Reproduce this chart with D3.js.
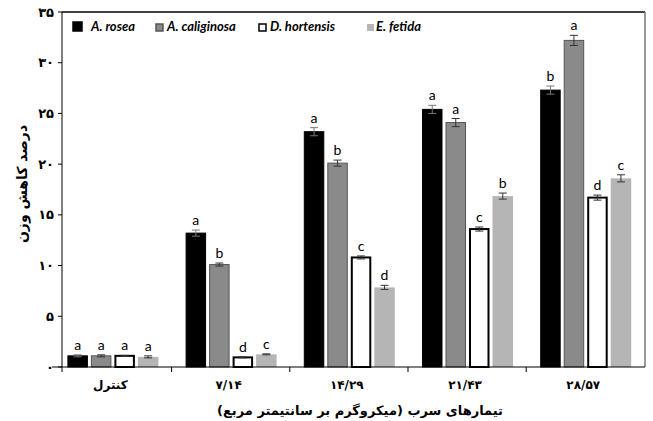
<!DOCTYPE html>
<html>
<head>
<meta charset="utf-8">
<script src="https://cdn.jsdelivr.net/npm/d3@7"></script>
<style>
  body { margin: 0; background: #fff; }
  text { font-family: "DejaVu Sans", sans-serif; }
</style>
</head>
<body>
<script>
var groups = ['کنترل', '۷/۱۴', '۱۴/۲۹', '۲۱/۴۳', '۲۸/۵۷'];
var species = ['A. rosea', 'A. caliginosa', 'D. hortensis', 'E. fetida'];

// mean weight loss per species, one entry per treatment group
var rosea = [1.1, 13.2, 23.2, 25.4, 27.3];
var caliginosa = [1.1, 10.1, 20.1, 24.1, 32.2];
var hortensis = [1.1, 0.95, 10.8, 13.6, 16.7];
var fetida = [1.0, 1.25, 7.85, 16.85, 18.6];

var roseaErr = [0.1, 0.3, 0.4, 0.4, 0.4];
var caliginosaErr = [0.1, 0.15, 0.3, 0.4, 0.5];
var hortensisErr = [0.05, 0.05, 0.15, 0.2, 0.25];
var fetidaErr = [0.1, 0.05, 0.2, 0.3, 0.35];

var roseaLetters = ['a', 'a', 'a', 'a', 'b'];
var caliginosaLetters = ['a', 'b', 'b', 'a', 'a'];
var hortensisLetters = ['a', 'd', 'c', 'c', 'd'];
var fetidaLetters = ['a', 'c', 'd', 'b', 'c'];

var yTicks = [0, 5, 10, 15, 20, 25, 30, 35];

function draw() {
  var series = [
    { name: species[0], values: rosea, err: roseaErr, letters: roseaLetters, fill: '#000', stroke: '#000', sw: 1 },
    { name: species[1], values: caliginosa, err: caliginosaErr, letters: caliginosaLetters, fill: '#8a8a8a', stroke: '#555', sw: 1 },
    { name: species[2], values: hortensis, err: hortensisErr, letters: hortensisLetters, fill: '#fff', stroke: '#000', sw: 2 },
    { name: species[3], values: fetida, err: fetidaErr, letters: fetidaLetters, fill: '#b5b5b5', stroke: 'none', sw: 0 }
  ];

  function fa(n) {
    return String(n).replace(/[0-9]/g, function (c) { return '۰۱۲۳۴۵۶۷۸۹'[+c]; });
  }

  var W = 653, H = 421;
  var pl = 62, pr = 645, pt = 12, pb = 367;

  var svg = d3.select('body').append('svg')
    .attr('width', W)
    .attr('height', H);

  var x0 = d3.scaleBand()
    .domain(groups)
    .range([53.4, 644.4]);

  var x1 = d3.scaleBand()
    .domain(species)
    .range([14, 105])
    .paddingInner(0.128);

  var y = d3.scaleLinear()
    .domain([0, 35])
    .range([pb, pt]);

  // plot frame (top and right)
  svg.append('line')
    .attr('x1', pl).attr('x2', pr)
    .attr('y1', pt).attr('y2', pt)
    .attr('stroke', '#000').attr('stroke-width', 1.5);
  svg.append('line')
    .attr('x1', pr).attr('x2', pr)
    .attr('y1', pt).attr('y2', pb)
    .attr('stroke', '#777').attr('stroke-width', 1.5);

  var rows = [];
  series.forEach(function (s) {
    groups.forEach(function (g, i) {
      rows.push({ s: s, g: g, v: s.values[i], e: s.err[i], l: s.letters[i] });
    });
  });

  var bar = svg.append('g')
    .selectAll('g')
    .data(rows)
    .enter().append('g')
    .attr('transform', function (d) { return 'translate(' + (x0(d.g) + x1(d.s.name)) + ',0)'; });

  var bw = x1.bandwidth();

  bar.append('rect')
    .attr('x', function (d) { return d.s.sw / 2; })
    .attr('width', function (d) { return bw - d.s.sw; })
    .attr('y', function (d) { return y(d.v); })
    .attr('height', function (d) { return y(0) - y(d.v); })
    .attr('fill', function (d) { return d.s.fill; })
    .attr('stroke', function (d) { return d.s.stroke; })
    .attr('stroke-width', function (d) { return d.s.sw; });

  // error bars
  var eb = bar.append('g')
    .attr('stroke', function (d) { return d.s.fill == '#000' ? '#777' : '#333'; })
    .attr('stroke-width', 1);
  eb.append('line')
    .attr('x1', bw / 2).attr('x2', bw / 2)
    .attr('y1', function (d) { return y(d.v - d.e); })
    .attr('y2', function (d) { return y(d.v + d.e); });
  eb.append('line')
    .attr('x1', bw / 2 - 4).attr('x2', bw / 2 + 4)
    .attr('y1', function (d) { return y(d.v + d.e); })
    .attr('y2', function (d) { return y(d.v + d.e); });
  eb.append('line')
    .attr('x1', bw / 2 - 4).attr('x2', bw / 2 + 4)
    .attr('y1', function (d) { return y(d.v - d.e); })
    .attr('y2', function (d) { return y(d.v - d.e); });

  bar.append('text')
    .attr('x', bw / 2)
    .attr('y', function (d) { return y(d.v + d.e) - 5; })
    .style('text-anchor', 'middle')
    .style('font-family', 'Lato, sans-serif')
    .style('font-size', '14px')
    .text(function (d) { return d.l; });

  // x axis
  svg.append('line')
    .attr('x1', pl - 10).attr('x2', pr)
    .attr('y1', pb).attr('y2', pb)
    .attr('stroke', '#000');
  svg.append('g')
    .selectAll('line')
    .data(groups.slice(1))
    .enter().append('line')
    .attr('x1', function (d) { return x0(d); })
    .attr('x2', function (d) { return x0(d); })
    .attr('y1', pb).attr('y2', pb + 5)
    .attr('stroke', '#000');

  svg.append('g')
    .selectAll('text')
    .data(groups)
    .enter().append('text')
    .attr('x', function (d) { return x0(d) + 57; })
    .attr('y', 389)
    .style('text-anchor', 'middle')
    .style('font-weight', 'bold')
    .style('font-size', '12px')
    .text(function (d) { return d; });

  svg.append('text')
    .attr('x', 360)
    .attr('y', 415)
    .style('text-anchor', 'middle')
    .style('font-weight', 'bold')
    .style('font-size', '13px')
    .text('تیمارهای سرب (میکروگرم بر سانتیمتر مربع)');

  // y axis
  svg.append('line')
    .attr('x1', pl).attr('x2', pl)
    .attr('y1', pt).attr('y2', pb + 5)
    .attr('stroke', '#000');
  var yt = svg.append('g')
    .selectAll('g')
    .data(yTicks)
    .enter().append('g')
    .attr('transform', function (d) { return 'translate(0,' + y(d) + ')'; });
  yt.append('line')
    .attr('x1', pl - 4).attr('x2', pl)
    .attr('stroke', '#000');
  yt.append('text')
    .attr('x', pl - 8)
    .attr('dy', '0.35em')
    .style('text-anchor', 'end')
    .style('font-weight', 'bold')
    .style('font-size', '13px')
    .text(function (d) { return fa(d); });

  svg.append('text')
    .attr('transform', 'translate(22,184) rotate(-90)')
    .attr('dy', '0.35em')
    .style('text-anchor', 'middle')
    .style('font-weight', 'bold')
    .style('font-size', '14px')
    .text('درصد کاهش وزن');

  // legend
  var lx = [73, 156, 259, 367];
  var lg = svg.append('g')
    .selectAll('g')
    .data(series)
    .enter().append('g')
    .attr('transform', function (d, i) { return 'translate(' + lx[i] + ',23)'; });
  lg.append('rect')
    .attr('width', function (d, i) { return i == 0 ? 9 : 7; })
    .attr('height', function (d, i) { return i == 0 ? 9 : 7; })
    .attr('y', function (d, i) { return i == 0 ? -1 : 1; })
    .attr('fill', function (d) { return d.fill; })
    .attr('stroke', function (d) { return d.stroke; })
    .attr('stroke-width', function (d) { return d.sw ? 1.5 : 0; });
  lg.append('text')
    .attr('x', function (d, i) { return i == 0 ? 18 : (i == 3 ? 9 : 11); })
    .attr('y', 8)
    .style('font-family', 'Lato, sans-serif')
    .style('font-weight', 'bold')
    .style('font-style', 'italic')
    .style('font-size', '13px')
    .text(function (d) { return d.name; });
}

draw();
</script>
</body>
</html>
